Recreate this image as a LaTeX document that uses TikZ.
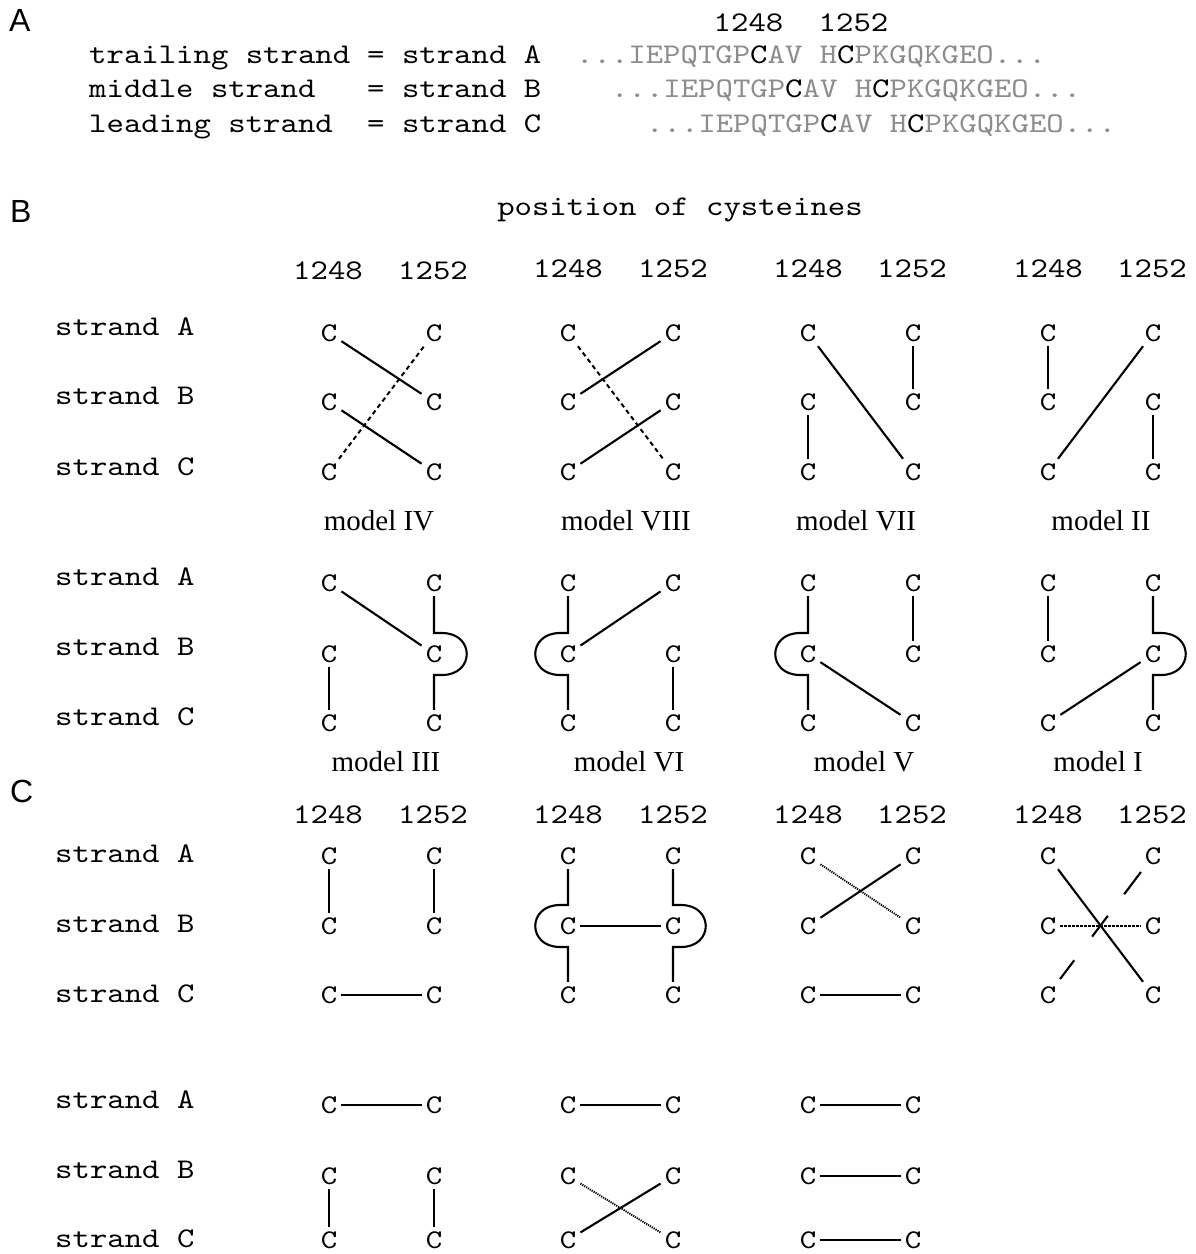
\documentclass[tikz,border=0pt]{standalone}
\usepackage{fontspec}
\setmainfont{Liberation Serif}
\setmonofont{lmmono10-regular.otf}[FakeStretch=1.163]
\setsansfont{Liberation Sans}
\usetikzlibrary{calc}
\definecolor{seqgray}{RGB}{140,140,140}
\newcommand\cgrid[6]{%
  \node[cc] (#1a1) at (#2,#4) {C};
  \node[cc] (#1a2) at (#3,#4) {C};
  \node[cc] (#1b1) at (#2,#5) {C};
  \node[cc] (#1b2) at (#3,#5) {C};
  \node[cc] (#1c1) at (#2,#6) {C};
  \node[cc] (#1c2) at (#3,#6) {C};}
\newcommand\strandlabels[4]{%
  \node[mono] (#1A) at (55,#2) {strand A};
  \node[mono] (#1B) at (55,#3) {strand B};
  \node[mono] (#1C) at (55,#4) {strand C};}
\newcommand\headnums[4]{%
  \node[monoc] (#1l) at (#2,#4) {1248};
  \node[monoc] (#1r) at (#3,#4) {1252};}
\newcommand\bulgeR[3]{%
  \draw[bond] (#1.south) -- ($(#2.center)+(0,-21)$) -- ($(#2.center)+(8,-21)$)
    .. controls ($(#2.center)+(41,-21)$) and ($(#2.center)+(41,21)$) .. ($(#2.center)+(8,21)$)
    -- ($(#2.center)+(0,21)$) -- (#3.north);}
\newcommand\bulgeL[3]{%
  \draw[bond] (#1.south) -- ($(#2.center)+(0,-21)$) -- ($(#2.center)+(-8,-21)$)
    .. controls ($(#2.center)+(-41,-21)$) and ($(#2.center)+(-41,21)$) .. ($(#2.center)+(-8,21)$)
    -- ($(#2.center)+(0,21)$) -- (#3.north);}
\begin{document}
\begin{tikzpicture}[x=1pt,y=-1pt,
  mono/.style={font=\ttfamily\fontsize{28.5}{28.5}\selectfont, inner sep=0pt, anchor=base west},
  monoc/.style={font=\ttfamily\fontsize{28.5}{28.5}\selectfont, inner sep=0pt, anchor=base},
  panel/.style={font=\sffamily\fontsize{32}{32}\selectfont, inner sep=0pt, anchor=base west},
  model/.style={font=\rmfamily\fontsize{29}{29}\selectfont, inner sep=0pt, anchor=base},
  cc/.style={font=\ttfamily\fontsize{27}{27}\selectfont, inner xsep=4pt, inner ysep=5pt, text height=16pt, text depth=0pt},
  bond/.style={line width=2.1pt},
  dsh/.style={line width=2pt, dash pattern=on 4.5pt off 3.5pt},
  dott/.style={line width=1.9pt, dash pattern=on 1.2pt off 1pt},
  dshb/.style={line width=1.8pt, dash pattern=on 2.8pt off 1.2pt}
]
\clip (0,0) rectangle (1196,1254);
\fill[white] (0,0) rectangle (1196,1254);

% ---------------- panel A
\node[panel] (pA) at (9,31) {A};
\node[monoc] (hA1) at (748.5,31) {1248};
\node[monoc] (hA2) at (853.5,31) {1252};
\node[mono] (tr) at (89,63) {trailing strand};
\node[mono] (mi) at (89,97) {middle strand};
\node[mono] (le) at (89,132) {leading strand};
\node[mono] (eA) at (367,63) {= strand A};
\node[mono] (eB) at (367,97) {= strand B};
\node[mono] (eC) at (367,132) {= strand C};
\node[mono] (sqA) at (576,63) {\textcolor{seqgray}{...IEPQTGP}C\textcolor{seqgray}{AV H}C\textcolor{seqgray}{PKGQKGEO...}};
\node[mono] (sqB) at (611,97) {\textcolor{seqgray}{...IEPQTGP}C\textcolor{seqgray}{AV H}C\textcolor{seqgray}{PKGQKGEO...}};
\node[mono] (sqC) at (646,132) {\textcolor{seqgray}{...IEPQTGP}C\textcolor{seqgray}{AV H}C\textcolor{seqgray}{PKGQKGEO...}};

% ---------------- panel B
\node[panel] (pB) at (10,222) {B};
\node[monoc] (pos) at (680,215) {position of cysteines};
\headnums{hq1}{328}{433}{279}
\headnums{hq2}{568}{673}{277}
\headnums{hq3}{808}{912}{277}
\headnums{hq4}{1048}{1152}{277}

\strandlabels{lq}{335}{404}{475}
\cgrid{q1}{329}{434}{333}{402}{472}
\cgrid{q2}{568}{673}{333}{402}{472}
\cgrid{q3}{808}{913}{333}{402}{472}
\cgrid{q4}{1048}{1153}{333}{402}{472}

\draw[bond] (q1a1) -- (q1b2);
\draw[bond] (q1b1) -- (q1c2);
\draw[dsh] (q1c1) -- (q1a2);
\draw[bond] (q2a2) -- (q2b1);
\draw[bond] (q2b2) -- (q2c1);
\draw[dsh] (q2a1) -- (q2c2);
\draw[bond] (q3a2) -- (q3b2);
\draw[bond] (q3b1) -- (q3c1);
\draw[bond] (q3a1) -- (q3c2);
\draw[bond] (q4a1) -- (q4b1);
\draw[bond] (q4b2) -- (q4c2);
\draw[bond] (q4a2) -- (q4c1);

\node[model] (m4) at (379,530) {model IV};
\node[model] (m8) at (626,530) {model VIII};
\node[model] (m7) at (856,530) {model VII};
\node[model] (m2) at (1101,530) {model II};

\strandlabels{lr}{585}{655}{725}
\cgrid{r1}{329}{434}{583}{654}{723}
\cgrid{r2}{568}{673}{583}{654}{723}
\cgrid{r3}{808}{913}{583}{654}{723}
\cgrid{r4}{1048}{1153}{583}{654}{723}

\draw[bond] (r1a1) -- (r1b2);
\draw[bond] (r1b1) -- (r1c1);
\bulgeR{r1a2}{r1b2}{r1c2}
\draw[bond] (r2a2) -- (r2b1);
\draw[bond] (r2b2) -- (r2c2);
\bulgeL{r2a1}{r2b1}{r2c1}
\draw[bond] (r3a2) -- (r3b2);
\draw[bond] (r3b1) -- (r3c2);
\bulgeL{r3a1}{r3b1}{r3c1}
\draw[bond] (r4a1) -- (r4b1);
\draw[bond] (r4c1) -- (r4b2);
\bulgeR{r4a2}{r4b2}{r4c2}

\node[model] (m3) at (386,771) {model III};
\node[model] (m6) at (629,771) {model VI};
\node[model] (m5) at (864,771) {model V};
\node[model] (m1) at (1098,771) {model I};

% ---------------- panel C
\node[panel] (pC) at (10,802) {C};
\headnums{hs1}{328}{433}{823}
\headnums{hs2}{568}{673}{823}
\headnums{hs3}{808}{912}{823}
\headnums{hs4}{1048}{1152}{823}

\strandlabels{ls}{862}{932}{1002}
\cgrid{s1}{329}{434}{856}{926}{995}
\cgrid{s2}{568}{673}{856}{926}{995}
\cgrid{s3}{808}{913}{856}{926}{995}
\cgrid{s4}{1048}{1153}{856}{926}{995}

\draw[bond] (s1a1) -- (s1b1);
\draw[bond] (s1a2) -- (s1b2);
\draw[bond] (s1c1) -- (s1c2);
\bulgeL{s2a1}{s2b1}{s2c1}
\bulgeR{s2a2}{s2b2}{s2c2}
\draw[bond] (s2b1) -- (s2b2);
\draw[dott] (s3a1) -- (s3b2);
\draw[bond] (s3b1) -- (s3a2);
\draw[bond] (s3c1) -- (s3c2);
\draw[bond] (s4a1) -- (s4c2);
\draw[dshb] (s4b1) -- (s4b2);
\draw[bond] ($(s4c1)!0.115!(s4a2)$) -- ($(s4c1)!0.25!(s4a2)$);
\draw[bond] ($(s4c1)!0.42!(s4a2)$) -- ($(s4c1)!0.57!(s4a2)$);
\draw[bond] ($(s4c1)!0.725!(s4a2)$) -- ($(s4c1)!0.885!(s4a2)$);

\strandlabels{lt}{1108}{1178}{1247}
\cgrid{t1}{329}{434}{1105}{1176}{1240}
\cgrid{t2}{568}{673}{1105}{1176}{1240}
\cgrid{t3}{808}{913}{1105}{1176}{1240}

\draw[bond] (t1a1) -- (t1a2);
\draw[bond] (t1b1) -- (t1c1);
\draw[bond] (t1b2) -- (t1c2);
\draw[bond] (t2a1) -- (t2a2);
\draw[dott] (t2b1) -- (t2c2);
\draw[bond] (t2c1) -- (t2b2);
\draw[bond] (t3a1) -- (t3a2);
\draw[bond] (t3b1) -- (t3b2);
\draw[bond] (t3c1) -- (t3c2);
\end{tikzpicture}
\end{document}
